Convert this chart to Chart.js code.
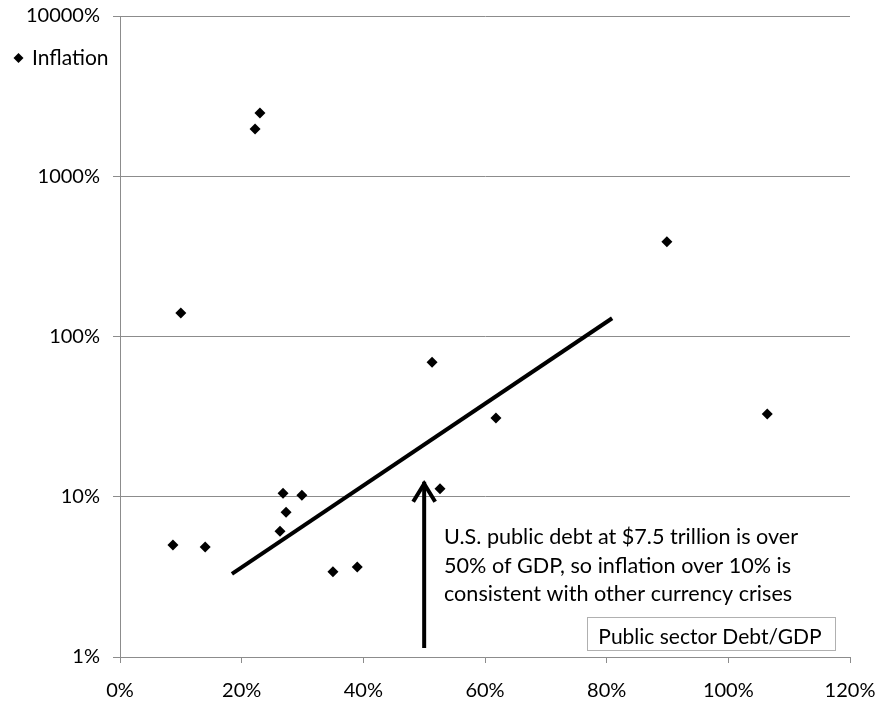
<!DOCTYPE html>
<html>
<head>
<meta charset="utf-8">
<script src="https://cdn.jsdelivr.net/npm/chart.js@4.4.1/dist/chart.umd.min.js"></script>
<style>
  html, body { margin: 0; padding: 0; background: #fff; }
  #wrap { width: 880px; height: 707px; }
</style>
</head>
<body>
<div id="wrap"><canvas id="chart" width="880" height="707"></canvas></div>
<script>
'use strict';

// debt/GDP (%) and inflation (%)
var debtRatio = [8.7, 14.0, 10.0, 22.2, 23.0, 26.8, 29.9, 27.3, 26.3, 35.0, 39.0, 51.3, 52.6, 61.8, 89.9, 106.4];
var inflation = [5.0, 4.85, 140, 1970, 2480, 10.5, 10.2, 8.0, 6.1, 3.4, 3.65, 69, 11.2, 31, 390, 32.8];

var trendX = [18.4, 80.9];
var trendY = [3.3, 130];

var arrowX = [50, 50];
var arrowY = [1.14, 12.4];

var xTicks = [0, 20, 40, 60, 80, 100, 120];
var yTicks = [1, 10, 100, 1000, 10000];

var noteLines = [
  'U.S. public debt at $7.5 trillion is over',
  '50% of GDP, so inflation over 10% is',
  'consistent with other currency crises'
];
var axisTitle = 'Public sector Debt/GDP';
var legendLabel = 'Inflation';

var font = 'Lato, "Open Sans", sans-serif';

var toPoints = function(xs, ys) {
  var out = [];
  for (var i = 0; i < xs.length; i++) {
    out.push({x: xs[i], y: ys[i]});
  }
  return out;
};

// legend, arrow head, note text and the boxed axis title
var extras = {
  id: 'extras',
  afterDatasetsDraw: function(chart) {
    var ctx = chart.ctx;
    var xs = chart.scales.x;
    var ys = chart.scales.y;
    ctx.save();

    // legend
    ctx.fillStyle = '#000';
    ctx.beginPath();
    ctx.moveTo(18.5, 53);
    ctx.lineTo(23.5, 58);
    ctx.lineTo(18.5, 63);
    ctx.lineTo(13.5, 58);
    ctx.closePath();
    ctx.fill();
    ctx.font = '21px ' + font;
    ctx.textBaseline = 'alphabetic';
    ctx.textAlign = 'left';
    ctx.fillText(legendLabel, 32, 65);

    // arrow head
    var tipX = xs.getPixelForValue(arrowX[1]);
    var tipY = ys.getPixelForValue(arrowY[1]);
    ctx.strokeStyle = '#000';
    ctx.lineWidth = 4;
    ctx.beginPath();
    ctx.moveTo(tipX - 11, tipY + 20);
    ctx.lineTo(tipX, tipY + 2);
    ctx.lineTo(tipX + 11, tipY + 20);
    ctx.stroke();

    // note
    ctx.font = '21.6px ' + font;
    ctx.fillStyle = '#000';
    for (var i = 0; i < noteLines.length; i++) {
      ctx.fillText(noteLines[i], 444, 544 + i * 28.5);
    }

    // boxed title
    ctx.strokeStyle = '#b0b0b0';
    ctx.lineWidth = 1;
    ctx.strokeRect(587.5, 617.5, 248, 33);
    ctx.font = '21px ' + font;
    ctx.textAlign = 'center';
    ctx.fillText(axisTitle, 710, 644);

    ctx.restore();
  }
};

var ctx = document.getElementById('chart').getContext('2d');
new Chart(ctx, {
  type: 'scatter',
  data: {
    datasets: [
      {
        label: legendLabel,
        data: toPoints(debtRatio, inflation),
        pointStyle: 'rectRot',
        pointRadius: 5.5,
        backgroundColor: '#000',
        borderColor: '#000',
        borderWidth: 0
      },
      {
        label: 'trend',
        type: 'line',
        data: toPoints(trendX, trendY),
        borderColor: '#000',
        borderWidth: 4,
        pointRadius: 0,
        fill: false
      },
      {
        label: 'arrow',
        type: 'line',
        data: toPoints(arrowX, arrowY),
        borderColor: '#000',
        borderWidth: 4,
        pointRadius: 0,
        fill: false
      }
    ]
  },
  options: {
    responsive: false,
    animation: false,
    events: [],
    layout: { padding: { left: 0, right: 30, top: 16, bottom: 0 } },
    plugins: {
      legend: { display: false },
      tooltip: { enabled: false }
    },
    scales: {
      x: {
        type: 'linear',
        min: 0,
        max: 120,
        afterBuildTicks: function(scale) {
          scale.ticks = xTicks.map(function(v) { return {value: v}; });
        },
        afterFit: function(scale) {
          scale.height = 50;
          scale.paddingLeft = 0;
          scale.paddingRight = 0;
        },
        grid: { drawOnChartArea: false, drawTicks: true, tickLength: 6, tickColor: '#8c8c8c' },
        border: { color: '#8c8c8c', width: 1 },
        ticks: {
          padding: 16,
          color: '#000',
          font: { family: font, size: 20 },
          callback: function(v) { return v + '%'; }
        }
      },
      y: {
        type: 'logarithmic',
        min: 1,
        max: 10000,
        afterBuildTicks: function(scale) {
          scale.ticks = yTicks.map(function(v) { return {value: v}; });
        },
        afterFit: function(scale) {
          scale.width = 120;
          scale.paddingTop = 0;
          scale.paddingBottom = 0;
        },
        grid: { color: '#8c8c8c', lineWidth: 1, drawTicks: true, tickLength: 7, tickColor: '#8c8c8c' },
        border: { color: '#8c8c8c', width: 1 },
        ticks: {
          padding: 13,
          color: '#000',
          font: { family: font, size: 20 },
          callback: function(v) { return v + '%'; }
        }
      }
    }
  },
  plugins: [extras]
});
</script>
</body>
</html>
